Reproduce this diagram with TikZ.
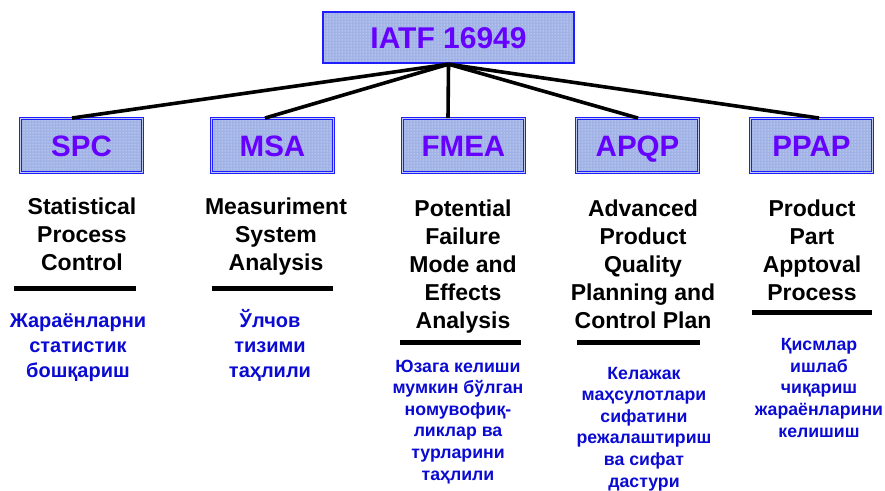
\documentclass[tikz,border=0pt]{standalone}
\usepackage{fontspec}
\setmainfont{Liberation Sans}
\usetikzlibrary{patterns,calc}
\definecolor{boxblue}{RGB}{30,30,255}
\definecolor{boxfill}{RGB}{160,178,230}
\definecolor{violettext}{RGB}{102,0,255}
\definecolor{uzblue}{RGB}{10,10,210}
\begin{document}
\begin{tikzpicture}[x=1pt,y=-1pt,
  topbox/.style={draw=boxblue, line width=2.4pt, preaction={fill=boxfill}, pattern=dots, pattern color=white,
    minimum width=251pt, minimum height=51pt, inner sep=0pt, text=violettext,
    text height=21.5pt, text depth=0pt,
    font=\bfseries\fontsize{30}{36}\selectfont},
  abbrbox/.style={draw=boxblue, line width=0.9pt, double=boxfill!70!white, double distance=1.2pt,
    preaction={fill=boxfill}, pattern=dots, pattern color=white,
    minimum width=122pt, minimum height=54pt, inner sep=0pt, text=violettext,
    text height=21.1pt, text depth=0pt,
    font=\bfseries\fontsize{29.5}{34}\selectfont},
  conn/.style={line width=3.6pt, black},
  bar/.style={line width=5pt, black},
  title/.style={anchor=base, align=center, inner sep=0pt, font=\bfseries\fontsize{23}{27.8}\selectfont},
  uz/.style={anchor=base, align=center, inner sep=0pt, text=uzblue, font=\bfseries\fontsize{20}{25}\selectfont},
  uzs/.style={anchor=base, align=center, inner sep=0pt, text=uzblue, font=\bfseries\fontsize{17.7}{21.6}\selectfont}
]
\useasboundingbox (0,0) rectangle (885,490);

\node[topbox] (top) at (448.5,37.5) {IATF 16949};

\node[abbrbox] (spc)  at (81.5,145.5)  {SPC};
\node[abbrbox] (msa)  at (272.5,145.5) {MSA};
\node[abbrbox] (fmea) at (463.5,145.5) {FMEA};
\node[abbrbox] (apqp) at (637.5,145.5) {APQP};
\node[abbrbox] (ppap) at (811.5,145.5) {PPAP};

\draw[conn] (top.south) -- ($(spc.north)+(-9.5,0)$);
\draw[conn] (top.south) -- ($(msa.north)+(-7.5,0)$);
\draw[conn] (top.south) -- ($(fmea.north)+(-15.5,0)$);
\draw[conn] (top.south) -- ($(apqp.north)+(0.5,0)$);
\draw[conn] (top.south) -- ($(ppap.north)+(7.5,0)$);

% anchor=base is the baseline of the last line
\node[title] (t1) at (82,270)  {Statistical\\Process\\Control};
\node[title] (t2) at (276,270) {Measuriment\\System\\Analysis};
\node[title] (t3) at (463,328) {Potential\\Failure\\Mode and\\Effects\\Analysis};
\node[title] (t4) at (643,328) {Advanced\\Product\\Quality\\Planning and\\Control Plan};
\node[title] (t5) at (812,300) {Product\\Part\\Apptoval\\Process};

\draw[bar] (14,288) -- (136,288);
\draw[bar] (212,288) -- (333,288);
\draw[bar] (400,342) -- (521,342);
\draw[bar] (577,342) -- (700,342);
\draw[bar] (752,312) -- (872,312);

\node[uz] (u1) at (78,377)  {Жараёнларни\\статистик\\бошқариш};
\node[uz] (u2) at (270,377) {Ўлчов\\тизими\\таҳлили};
\node[uzs] (u3) at (458,480) {Юзага келиши\\мумкин бўлган\\номувофиқ-\\ликлар ва\\турларини\\таҳлили};
\node[uzs] (u4) at (644,487) {Келажак\\маҳсулотлари\\сифатини\\режалаштириш\\ва сифат\\дастури};
\node[uzs] (u5) at (819,437) {Қисмлар\\ишлаб\\чиқариш\\жараёнларини\\келишиш};
\end{tikzpicture}
\end{document}
